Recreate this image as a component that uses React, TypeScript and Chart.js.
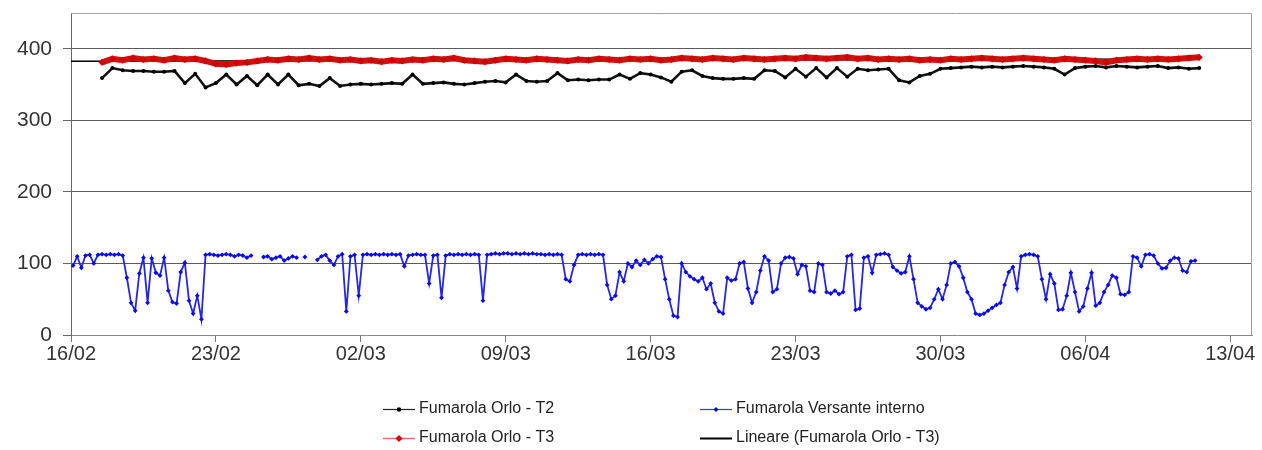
import React, { useEffect, useRef } from "react";
import { Chart, registerables } from "chart.js";

Chart.register(...registerables);

// ---- Axis labels ----
const X_TICK_LABELS = ["16/02", "23/02", "02/03", "09/03", "16/03", "23/03", "30/03", "06/04", "13/04"];
const X_TICK_STEP_DAYS = 7;
const X_MAX_DAYS = 57.05;
const Y_TICKS = [0, 100, 200, 300, 400];
const Y_MAX = 450;

// ---- Series: Fumarola Versante interno (blue), one value every 0.2 day ----
const BLUE_START_DAY = 0.1;
const BLUE_STEP_DAY = 0.2;
const BLUE_VALUES: (number | null)[] = [
  97, 110, 94, 111, 112,
  100, 112, 113, 112, 113,
  112, 113, 111, 80, 45,
  34, 86, 108, 45, 107,
  87, 83, 108, 62, 46,
  44, 88, 101, 48, 30,
  55, 22, 112, 113, 112,
  111, 112, 113, 112, 110,
  112, 111, 108, 111, null,
  null, 109, 110, 106, 108,
  110, 104, 107, 110, 108,
  null, 109, null, null, 105,
  110, 112, 104, 98, 110,
  113, 33, 110, 112, 55,
  112, 113, 112, 113, 112,
  113, 112, 113, 112, 113,
  96, 111, 112, 113, 112,
  112, 72, 111, 112, 52,
  111, 113, 112, 113, 112,
  113, 112, 113, 112, 48,
  112, 113, 114, 113, 114,
  114, 113, 114, 113, 114,
  113, 114, 113, 113, 112,
  113, 112, 113, 112, 78,
  75, 98, 112, 113, 112,
  113, 112, 113, 112, 70,
  50, 55, 88, 75, 100,
  95, 104, 98, 105, 100,
  106, 110, 109, 78, 50,
  27, 25, 100, 88, 82,
  78, 75, 80, 64, 72,
  45, 33, 30, 80, 76,
  78, 100, 102, 65, 45,
  60, 90, 110, 104, 60,
  64, 100, 108, 109, 107,
  85, 98, 96, 62, 60,
  100, 98, 60, 58, 62,
  57, 60, 110, 112, 35,
  37, 108, 110, 87, 112,
  113, 114, 112, 95, 90,
  86, 88, 110, 78, 45,
  40, 36, 38, 50, 64,
  50, 70, 100, 102, 96,
  80, 60, 50, 30, 28,
  30, 34, 38, 42, 45,
  70, 88, 95, 65, 110,
  112, 113, 112, 110, 78,
  50, 85, 72, 35, 36,
  55, 87, 60, 33, 40,
  65, 87, 41, 45, 60,
  70, 83, 80, 57, 56,
  60, 110, 108, 96, 112,
  113, 111, 100, 93, 94,
  104, 108, 107, 90, 88,
  103, 104,
];

// ---- Series: Fumarola Orlo - T2 (black), one value every 0.5 day ----
const T2_START_DAY = 1.5;
const T2_STEP_DAY = 0.5;
const T2_VALUES: number[] = [
  359, 373, 370, 369, 369, 368, 368, 369, 352, 365,
  346, 352, 364, 350, 362, 349, 364, 350, 364, 349,
  351, 348, 359, 348, 350, 351, 350, 351, 352, 351,
  364, 351, 352, 353, 351, 350, 352, 354, 355, 353,
  364, 355, 354, 355, 366, 356, 357, 356, 357, 357,
  364, 358, 366, 364, 360, 354, 368, 370, 362, 359,
  358, 358, 359, 358, 370, 369, 360, 372, 361, 373,
  360, 373, 361, 372, 370, 371, 372, 356, 353, 362,
  365, 372, 373, 374, 375, 374, 375, 374, 375, 376,
  375, 374, 372, 364, 373, 375, 376, 374, 376, 375,
  374, 375, 376, 373, 374, 372, 373,
];

// ---- Series: Fumarola Orlo - T3 (red), one value every 0.5 day ----
const T3_START_DAY = 1.5;
const T3_STEP_DAY = 0.5;
const T3_VALUES: number[] = [
  381, 386, 384, 387, 385, 386, 384, 387, 385, 386,
  383, 379, 378, 380, 381, 383, 385, 384, 386, 385,
  387, 385, 386, 384, 385, 383, 384, 382, 384, 383,
  385, 384, 386, 385, 387, 384, 383, 382, 384, 386,
  385, 384, 386, 385, 384, 383, 385, 384, 386, 385,
  384, 386, 385, 386, 384, 385, 387, 386, 385, 387,
  386, 385, 387, 386, 385, 386, 387, 386, 388, 387,
  386, 387, 388, 386, 387, 385, 386, 385, 386, 384,
  385, 384, 386, 385, 386, 387, 386, 385, 386, 387,
  386, 385, 384, 386, 385, 384, 383, 381, 384, 385,
  386, 385, 386, 385, 386, 387, 388,
];

// ---- Linear trend of T3 ----
const TREND_DAYS = [0, 54.5];
const TREND_VALUES = [382.5, 385.5];

const FONT = '"Liberation Sans", Arial, Helvetica, sans-serif';

function toPoints(start: number, step: number, values: (number | null)[]) {
  return values.map((v, i) => ({ x: start + i * step, y: v }));
}

const LEGEND_ITEMS = [
  { label: "Fumarola Orlo - T2", line: "#222", marker: "circle", mColor: "#000", mSize: 2.2, width: 1.2, col: 0, row: 0 },
  { label: "Fumarola Versante interno", line: "#3a3ad0", marker: "rectRot", mColor: "#0000ee", mSize: 2.5, width: 1.2, col: 1, row: 0 },
  { label: "Fumarola Orlo - T3", line: "#e07070", marker: "rectRot", mColor: "#dd0000", mSize: 3.5, width: 1.5, col: 0, row: 1 },
  { label: "Lineare (Fumarola Orlo - T3)", line: "#000", marker: "none", mColor: "#000", mSize: 0, width: 2, col: 1, row: 1 },
];
const LEGEND_COL_X = [383, 700];
const LEGEND_ROW_Y = [409, 438];

const boxPlugin = {
  id: "plotBox",
  beforeDatasetsDraw(chart: any) {
    const { ctx, chartArea } = chart;
    ctx.save();
    ctx.strokeStyle = "#a0a0a0";
    ctx.lineWidth = 1;
    ctx.beginPath();
    ctx.moveTo(chartArea.left, chartArea.top + 0.5);
    ctx.lineTo(chartArea.right - 0.5, chartArea.top + 0.5);
    ctx.lineTo(chartArea.right - 0.5, chartArea.bottom);
    ctx.stroke();
    ctx.restore();
  },
};

const legendPlugin = {
  id: "customLegend",
  afterDraw(chart: any) {
    const ctx = chart.ctx;
    ctx.save();
    ctx.font = `16px ${FONT}`;
    ctx.textBaseline = "middle";
    LEGEND_ITEMS.forEach((it) => {
      const x0 = LEGEND_COL_X[it.col];
      const y = LEGEND_ROW_Y[it.row];
      ctx.strokeStyle = it.line;
      ctx.lineWidth = it.width;
      ctx.beginPath();
      ctx.moveTo(x0, y + 0.5);
      ctx.lineTo(x0 + 32, y + 0.5);
      ctx.stroke();
      if (it.marker === "circle") {
        ctx.fillStyle = it.mColor;
        ctx.beginPath();
        ctx.arc(x0 + 16, y + 0.5, it.mSize, 0, Math.PI * 2);
        ctx.fill();
      } else if (it.marker === "rectRot") {
        ctx.fillStyle = it.mColor;
        ctx.beginPath();
        ctx.moveTo(x0 + 16, y + 0.5 - it.mSize);
        ctx.lineTo(x0 + 16 + it.mSize, y + 0.5);
        ctx.lineTo(x0 + 16, y + 0.5 + it.mSize);
        ctx.lineTo(x0 + 16 - it.mSize, y + 0.5);
        ctx.closePath();
        ctx.fill();
      }
      ctx.fillStyle = "#222";
      ctx.fillText(it.label, x0 + 36, y);
    });
    ctx.restore();
  },
};

export default function App() {
  const canvasRef = useRef<HTMLCanvasElement | null>(null);

  useEffect(() => {
    document.body.style.margin = "0";
    const canvas = canvasRef.current;
    if (!canvas) return;

    const chart = new Chart(canvas, {
      type: "line",
      data: {
        datasets: [
          {
            label: "Fumarola Orlo - T3",
            data: toPoints(T3_START_DAY, T3_STEP_DAY, T3_VALUES),
            borderColor: "#cc1212",
            backgroundColor: "#d40000",
            borderWidth: 6,
            pointStyle: "rectRot",
            pointRadius: 3.6,
            pointBorderWidth: 0,
            order: 0,
          },
          {
            label: "Lineare (Fumarola Orlo - T3)",
            data: TREND_DAYS.map((d, i) => ({ x: d, y: TREND_VALUES[i] })),
            borderColor: "#000",
            borderWidth: 1.6,
            pointRadius: 0,
            order: 1,
          },
          {
            label: "Fumarola Orlo - T2",
            data: toPoints(T2_START_DAY, T2_STEP_DAY, T2_VALUES),
            borderColor: "#111",
            backgroundColor: "#000",
            borderWidth: 2.6,
            pointStyle: "circle",
            pointRadius: 2,
            pointBorderWidth: 0,
            order: 2,
          },
          {
            label: "Fumarola Versante interno",
            data: toPoints(BLUE_START_DAY, BLUE_STEP_DAY, BLUE_VALUES),
            borderColor: "#2626e6",
            backgroundColor: "#0a0af0",
            borderWidth: 1.8,
            pointStyle: "rectRot",
            pointRadius: 2.4,
            pointBorderWidth: 0,
            spanGaps: false,
            order: 3,
          },
        ],
      },
      options: {
        animation: false,
        responsive: false,
        devicePixelRatio: 1,
        parsing: false as any,
        normalized: true,
        layout: { padding: { left: 0, top: 13, right: 10, bottom: 0 } },
        plugins: {
          legend: { display: false },
          tooltip: { enabled: false },
        },
        elements: { line: { tension: 0 } },
        scales: {
          x: {
            type: "linear",
            min: 0,
            max: X_MAX_DAYS,
            ticks: {
              autoSkip: false,
              maxRotation: 0,
              padding: 0,
              color: "#333",
              font: { family: FONT, size: 20 },
              callback: (v: any) => {
                const idx = Math.round(Number(v) / X_TICK_STEP_DAYS);
                return X_TICK_LABELS[idx] ?? "";
              },
            },
            afterBuildTicks: (scale: any) => {
              scale.ticks = X_TICK_LABELS.map((_, i) => ({ value: i * X_TICK_STEP_DAYS }));
            },
            afterFit: (scale: any) => {
              scale.height = 115;
              scale.paddingLeft = 0;
              scale.paddingRight = 0;
            },
            grid: {
              display: true,
              drawOnChartArea: false,
              drawTicks: true,
              tickLength: 7,
              tickColor: "#777",
            },
            border: { display: true, color: "#888", width: 1 },
          },
          y: {
            type: "linear",
            min: 0,
            max: Y_MAX,
            ticks: {
              padding: 11,
              color: "#333",
              font: { family: FONT, size: 21 },
            },
            afterBuildTicks: (scale: any) => {
              scale.ticks = Y_TICKS.map((v) => ({ value: v }));
            },
            afterFit: (scale: any) => {
              scale.width = 71;
              scale.paddingTop = 0;
              scale.paddingBottom = 0;
            },
            grid: {
              display: true,
              drawOnChartArea: true,
              drawTicks: true,
              tickLength: 8,
              color: (c: any) => (c.tick && c.tick.value === 0 ? "rgba(0,0,0,0)" : "#5a5a5a"),
              tickColor: "#666",
            },
            border: { display: true, color: "#666", width: 1 },
          },
        },
      },
      plugins: [boxPlugin, legendPlugin],
    });

    return () => {
      chart.destroy();
    };
  }, []);

  return (
    <div style={{ width: 1262, height: 450, background: "#fff" }}>
      <canvas ref={canvasRef} width={1262} height={450} style={{ display: "block" }} />
    </div>
  );
}
